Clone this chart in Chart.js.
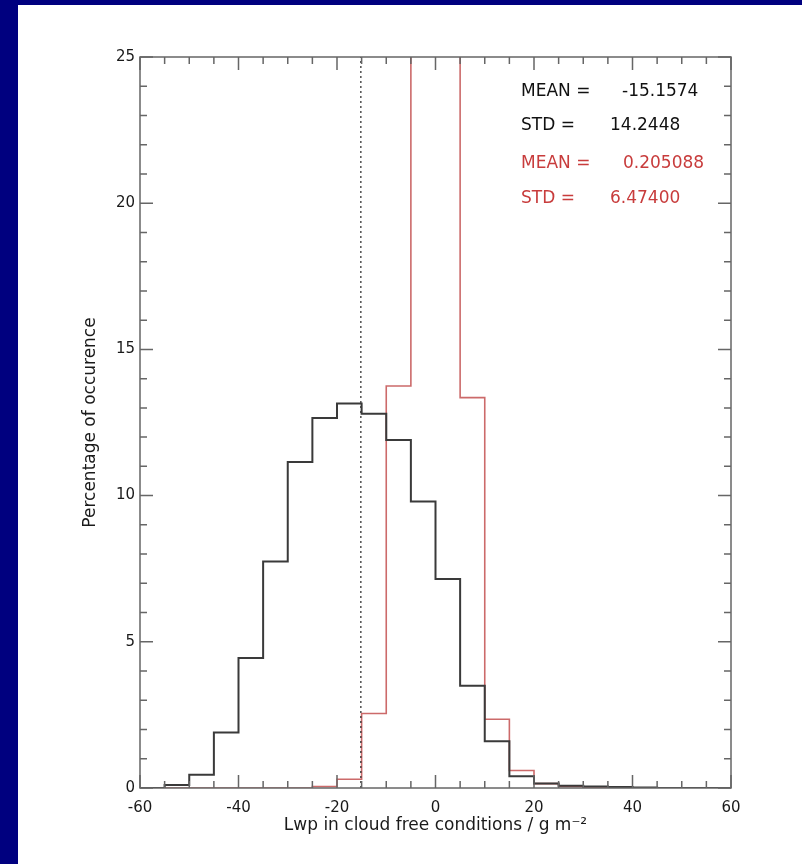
<!DOCTYPE html>
<html><head><meta charset="utf-8">
<script src="https://cdn.jsdelivr.net/npm/chart.js@4"></script>
<style>
html,body{margin:0;padding:0;background:#00007f;width:802px;height:864px;overflow:hidden}
#wrap{position:absolute;left:18px;top:5px;width:784px;height:859px;background:#fff}
canvas{display:block}
</style></head><body><div id="wrap"><canvas id="c" width="784" height="859"></canvas></div>
<script>
// ---- data ----
const binLeftEdges = [-60,-55,-50,-45,-40,-35,-30,-25,-20,-15,-10,-5,0,5,10,15,20,25,30,35,40,45,50,55];
const binWidth = 5;
const blackPct = [0.0,0.1,0.45,1.9,4.45,7.75,11.15,12.65,13.15,12.8,11.9,9.8,7.15,3.5,1.6,0.4,0.15,0.08,0.05,0.03,0.02,0,0,0];
const redPct   = [0,0,0,0,0,0,0,0.05,0.3,2.55,13.75,33.0,33.6,13.35,2.35,0.6,0.15,0.05,0.02,0,0,0,0,0];
const meanValue = -15.1574;
const xTickValues = [-60,-40,-20,0,20,40,60];
const yTickValues = [0,5,10,15,20,25];
const statLabels = ['MEAN =','STD =','MEAN =','STD ='];
const statValues = ['-15.1574','14.2448','0.205088','6.47400'];
const statSeries = ['black','black','red','red'];

const FONT = '"DejaVu Sans", "Liberation Sans", Arial, sans-serif';
const RED_LINE = '#cc6a6a';
const RED_TEXT = '#c83c3c';
const BLACK_LINE = '#3a3a3a';
const AXIS = '#666';

function histPoints(edges, vals){
  const pts = [];
  for (let i=0;i<edges.length;i++){
    pts.push({x:edges[i], y:vals[i]});
    pts.push({x:edges[i]+binWidth, y:vals[i]});
  }
  return pts;
}

const framePlugin = {
  id:'frame',
  afterDraw(chart){
    const {ctx, chartArea:a, scales:{x,y}} = chart;
    ctx.save();
    ctx.strokeStyle = AXIS;
    ctx.lineWidth = 1.5;
    ctx.strokeRect(a.left, a.top, a.right-a.left, a.bottom-a.top);
    ctx.beginPath();
    for (let v=x.min; v<=x.max+1e-9; v+=5){
      const px = x.getPixelForValue(v);
      const len = (Math.round(v)%20===0)?13:7;
      ctx.moveTo(px,a.bottom); ctx.lineTo(px,a.bottom-len);
      ctx.moveTo(px,a.top); ctx.lineTo(px,a.top+len);
    }
    for (let v=y.min; v<=y.max+1e-9; v+=1){
      const py = y.getPixelForValue(v);
      const len = (Math.round(v)%5===0)?13:7;
      ctx.moveTo(a.left,py); ctx.lineTo(a.left+len,py);
      ctx.moveTo(a.right,py); ctx.lineTo(a.right-len,py);
    }
    ctx.stroke();
    // stats text
    ctx.font = '17px ' + FONT;
    ctx.textBaseline = 'alphabetic';
    ctx.textAlign = 'left';
    const baselines = [91,125,163,198];
    const valueX = [604,592,605,592];
    for (let i=0;i<statLabels.length;i++){
      ctx.fillStyle = statSeries[i]==='red' ? RED_TEXT : '#111';
      ctx.fillText(statLabels[i], 503, baselines[i]);
      ctx.fillText(statValues[i], valueX[i], baselines[i]);
    }
    ctx.restore();
  }
};

new Chart(document.getElementById('c'), {
  type:'line',
  data:{
    datasets:[
      {data:histPoints(binLeftEdges, blackPct), borderColor:BLACK_LINE, borderWidth:2, pointRadius:0, tension:0, fill:false, order:1},
      {data:[{x:meanValue,y:0},{x:meanValue,y:25}], borderColor:'#333', borderWidth:1.3, borderDash:[2,3], pointRadius:0, fill:false, order:2},
      {data:histPoints(binLeftEdges, redPct), borderColor:RED_LINE, borderWidth:1.6, pointRadius:0, tension:0, fill:false, order:3}
    ]
  },
  options:{
    responsive:false, animation:false, devicePixelRatio:1,
    layout:{padding:{left:0, top:52, right:71, bottom:0}},
    plugins:{legend:{display:false}, tooltip:{enabled:false}},
    scales:{
      x:{type:'linear', min:-60, max:60,
        grid:{display:false, drawTicks:false, tickLength:0}, border:{display:false},
        afterBuildTicks(s){ s.ticks = xTickValues.map(v=>({value:v})); },
        afterFit(s){ s.height = 76; },
        ticks:{font:{family:FONT,size:15}, color:'#1a1a1a', padding:11, maxRotation:0, autoSkip:false},
        title:{display:true, text:'Lwp in cloud free conditions / g m⁻²', font:{family:FONT,size:17}, color:'#1a1a1a', padding:{top:0,bottom:28}}
      },
      y:{type:'linear', min:0, max:25,
        grid:{display:false, drawTicks:false, tickLength:0}, border:{display:false},
        afterBuildTicks(s){ s.ticks = yTickValues.map(v=>({value:v})); },
        afterFit(s){ s.width = 122; },
        ticks:{font:{family:FONT,size:15}, color:'#1a1a1a', padding:5, autoSkip:false},
        title:{display:true, text:'Percentage of occurence', font:{family:FONT,size:17}, color:'#1a1a1a', padding:{top:62,bottom:0}}
      }
    }
  },
  plugins:[framePlugin]
});
</script></body></html>
